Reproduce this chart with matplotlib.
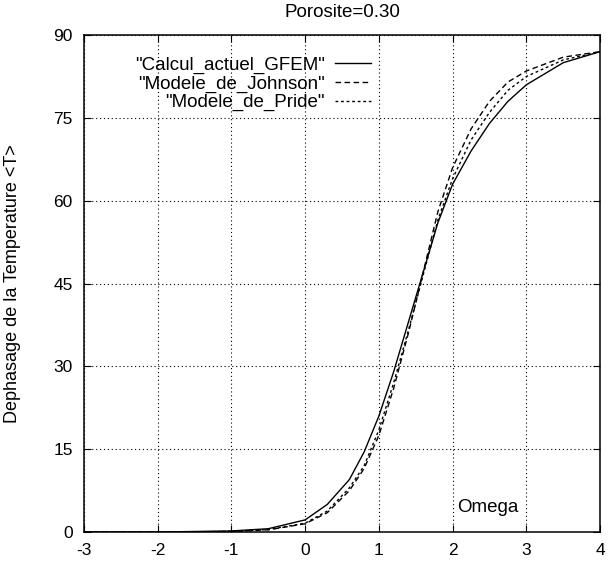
import matplotlib
matplotlib.use('Agg')
import matplotlib.pyplot as plt

# Dephasage de la temperature vs log(omega), porosite 0.30
omega = [-3, -2, -1, -0.5, 0, 0.3, 0.6, 0.8, 1.0, 1.2, 1.4, 1.6, 1.8, 2.0,
         2.25, 2.5, 2.75, 3.0, 3.5, 4.0]
gfem = [0, 0, 0.2, 0.6, 2.2, 5, 9.5, 14.5, 21, 29, 38, 47, 56, 63,
        69, 74, 78, 81, 85, 87]
johnson = [0, 0, 0.1, 0.4, 1.5, 3.5, 7.5, 11.5, 17.5, 26, 36, 47, 58, 66,
           73, 78, 81.5, 83.5, 86, 87]
pride = [0, 0, 0.1, 0.45, 1.6, 3.8, 8, 12, 18.5, 27, 36.5, 46.5, 56.5, 64,
         71, 76, 80, 82.5, 85.5, 87]

xticks = [-3, -2, -1, 0, 1, 2, 3, 4]
yticks = [0, 15, 30, 45, 60, 75, 90]

plt.rcParams['font.family'] = ['Liberation Sans', 'DejaVu Sans']
plt.rcParams['axes.unicode_minus'] = False

fig = plt.figure(figsize=(6.08, 5.66), dpi=100)
ax = fig.add_axes([0.138, 0.060, 0.849, 0.878])

ax.plot(omega, gfem, color='black', lw=1.0, label='"Calcul_actuel_GFEM"')
ax.plot(omega, johnson, color='black', lw=1.0, dashes=(4, 2.5),
        label='"Modele_de_Johnson"')
ax.plot(omega, pride, color='black', lw=1.0, dashes=(2, 2),
        label='"Modele_de_Pride"')

ax.set_xlim(-3, 4)
ax.set_ylim(0, 90)
ax.set_xticks(xticks)
ax.set_yticks(yticks)
ax.tick_params(direction='in', length=5, labelsize=12.5, top=True, right=True,
               pad=8)
ax.grid(True, color='black', linestyle=(0, (1, 2.5)), lw=0.8)
for s in ax.spines.values():
    s.set_linewidth(1.1)

ax.set_title('Porosite=0.30', fontsize=13.5, pad=13)
ax.set_ylabel('Dephasage de la Temperature <T>', fontsize=13)
ax.yaxis.set_label_coords(-0.122, 0.5)
ax.text(2.9, 4.5, 'Omega', fontsize=13.5, ha='right', va='center')

ax.legend(loc='upper right', bbox_to_anchor=(0.570, 0.972), frameon=False,
          markerfirst=False, fontsize=13.5, handlelength=1.9, handletextpad=0.55,
          labelspacing=0.08, borderaxespad=0)

fig.savefig('out.png', dpi=100)
